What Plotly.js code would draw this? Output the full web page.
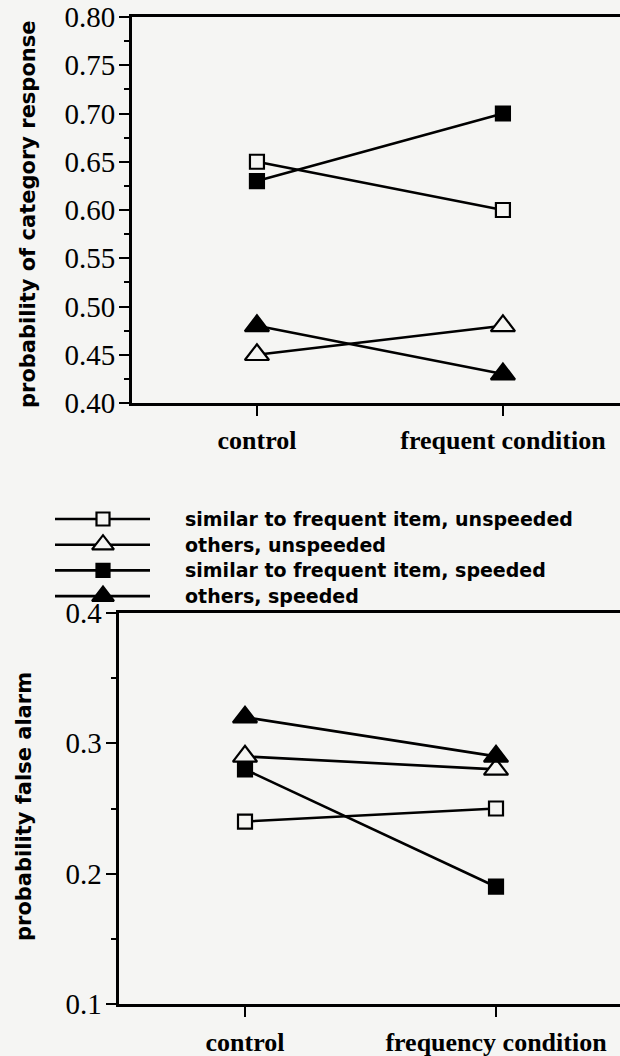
<!DOCTYPE html>
<html><head><meta charset="utf-8">
<script src="https://cdn.plot.ly/plotly-3.0.1.min.js"></script>
<style>html,body{margin:0;padding:0;background:#f5f5f3;overflow:hidden}</style>
</head><body><div id="chart" style="width:620px;height:1056px"></div>
<script>
// ---- data ----
const seriesNames = ["similar to frequent item, unspeeded", "others, unspeeded", "similar to frequent item, speeded", "others, speeded"];
const seriesSymbols = ["square", "triangle-up", "square", "triangle-up"];
const seriesFilled = [false, false, true, true];
const topCategories = ["control", "frequent condition"];
const bottomCategories = ["control", "frequency condition"];
const topSimilarUnspeeded = [0.65, 0.60];
const topOthersUnspeeded = [0.45, 0.48];
const topSimilarSpeeded = [0.63, 0.70];
const topOthersSpeeded = [0.48, 0.43];
const bottomSimilarUnspeeded = [0.24, 0.25];
const bottomOthersUnspeeded = [0.29, 0.28];
const bottomSimilarSpeeded = [0.28, 0.19];
const bottomOthersSpeeded = [0.32, 0.29];
const topTickVals = [0.40, 0.45, 0.50, 0.55, 0.60, 0.65, 0.70, 0.75, 0.80];
const topTickText = ["0.40", "0.45", "0.50", "0.55", "0.60", "0.65", "0.70", "0.75", "0.80"];
const bottomTickVals = [0.1, 0.2, 0.3, 0.4];
const bottomTickText = ["0.1", "0.2", "0.3", "0.4"];
const topTitle = "probability of category response";
const bottomTitle = "probability false alarm";

// ---- style ----
const W = 620, H = 1056;
const BG = "#f5f5f3";
const serif = "Liberation Serif, Times New Roman, serif";
const sans = "DejaVu Sans, sans-serif";
const topSeries = [topSimilarUnspeeded, topOthersUnspeeded, topSimilarSpeeded, topOthersSpeeded];
const bottomSeries = [bottomSimilarUnspeeded, bottomOthersUnspeeded, bottomSimilarSpeeded, bottomOthersSpeeded];

function markerFor(i) {
  const tri = seriesSymbols[i] === "triangle-up";
  return {
    symbol: seriesSymbols[i],
    size: tri ? 21 : 14,
    color: seriesFilled[i] ? "#000" : BG,
    line: {color: "#000", width: 2.2}
  };
}

const traces = [];
topSeries.forEach((vals, i) => {
  traces.push({x: topCategories, y: vals, xaxis: "x", yaxis: "y", mode: "lines+markers",
    line: {color: "#000", width: 2.6}, marker: markerFor(i), showlegend: false, cliponaxis: false, name: seriesNames[i]});
});
bottomSeries.forEach((vals, i) => {
  traces.push({x: bottomCategories, y: vals, xaxis: "x2", yaxis: "y2", mode: "lines+markers",
    line: {color: "#000", width: 2.6}, marker: markerFor(i), showlegend: false, cliponaxis: false, name: seriesNames[i]});
});

// manual legend in a pixel-space helper subplot
const legTop = 519, legStep = 25.7, legX0 = 55, legX1 = 150, legXm = 103, legText = 183;
const annotations = [];
seriesNames.forEach((name, i) => {
  const yy = legTop + i * legStep;
  traces.push({x: [legX0, legX1], y: [yy, yy], xaxis: "x3", yaxis: "y3", mode: "lines",
    line: {color: "#000", width: 2.6}, showlegend: false, hoverinfo: "skip", cliponaxis: false});
  const m = markerFor(i);
  m.size = seriesSymbols[i] === "triangle-up" ? 19 : 13;
  traces.push({x: [legXm], y: [yy], xaxis: "x3", yaxis: "y3", mode: "markers",
    marker: m, showlegend: false, hoverinfo: "skip", cliponaxis: false});
  annotations.push({xref: "x3", yref: "y3", x: legText, y: yy, xanchor: "left", yanchor: "middle",
    text: name, showarrow: false, font: {family: sans, size: 19, color: "#000", weight: "bold"}});
});

annotations.push({xref: "paper", yref: "paper", x: 28 / W, y: 1 - 214 / H, xanchor: "center", yanchor: "middle",
  text: topTitle, textangle: -90, showarrow: false, font: {family: sans, size: 21, color: "#000", weight: "bold"}});
annotations.push({xref: "paper", yref: "paper", x: 24 / W, y: 1 - 807 / H, xanchor: "center", yanchor: "middle",
  text: bottomTitle, textangle: -90, showarrow: false, font: {family: sans, size: 21, color: "#000", weight: "bold"}});

const axisCommon = {showgrid: false, zeroline: false, showline: true, linecolor: "#000", linewidth: 3,
  ticks: "outside", ticklen: 10, tickwidth: 2, tickcolor: "#000", fixedrange: true};

const layout = {
  width: W, height: H, margin: {l: 0, r: 0, t: 0, b: 0},
  paper_bgcolor: BG, plot_bgcolor: "rgba(0,0,0,0)", showlegend: false,
  xaxis: Object.assign({}, axisCommon, {domain: [132 / W, 1], anchor: "y", type: "category",
    categoryarray: topCategories, range: [-0.508, 1.476], mirror: true, ticklabelstandoff: 2,
    tickfont: {family: serif, size: 26, color: "#000", weight: "bold"}}),
  yaxis: Object.assign({}, axisCommon, {domain: [1 - 403 / H, 1 - 17 / H], anchor: "x", range: [0.40, 0.80],
    tickvals: topTickVals, ticktext: topTickText, ticklabelstandoff: -2,
    minor: {tickvals: [0.425, 0.475, 0.525, 0.575, 0.625, 0.675, 0.725, 0.775], ticks: "outside", ticklen: 5, tickwidth: 2, tickcolor: "#000", showgrid: false},
    tickfont: {family: serif, size: 29, color: "#000"}}),
  xaxis2: Object.assign({}, axisCommon, {domain: [118.5 / W, 1], anchor: "y2", type: "category",
    categoryarray: bottomCategories, range: [-0.504, 1.494], mirror: true, ticklabelstandoff: 3,
    tickfont: {family: serif, size: 26, color: "#000", weight: "bold"}}),
  yaxis2: Object.assign({}, axisCommon, {domain: [1 - 1004 / H, 1 - 613 / H], anchor: "x2", range: [0.1, 0.4],
    tickvals: bottomTickVals, ticktext: bottomTickText, ticklabelstandoff: -2,
    minor: {tickvals: [0.15, 0.25, 0.35], ticks: "outside", ticklen: 5, tickwidth: 2, tickcolor: "#000", showgrid: false},
    tickfont: {family: serif, size: 29, color: "#000"}}),
  xaxis3: {domain: [0, 1], range: [0, W], visible: false, fixedrange: true, anchor: "y3"},
  yaxis3: {domain: [0, 1], range: [H, 0], visible: false, fixedrange: true, anchor: "x3"},
  annotations: annotations
};

Plotly.newPlot("chart", traces, layout, {staticPlot: true, displayModeBar: false});
</script>
</body></html>
